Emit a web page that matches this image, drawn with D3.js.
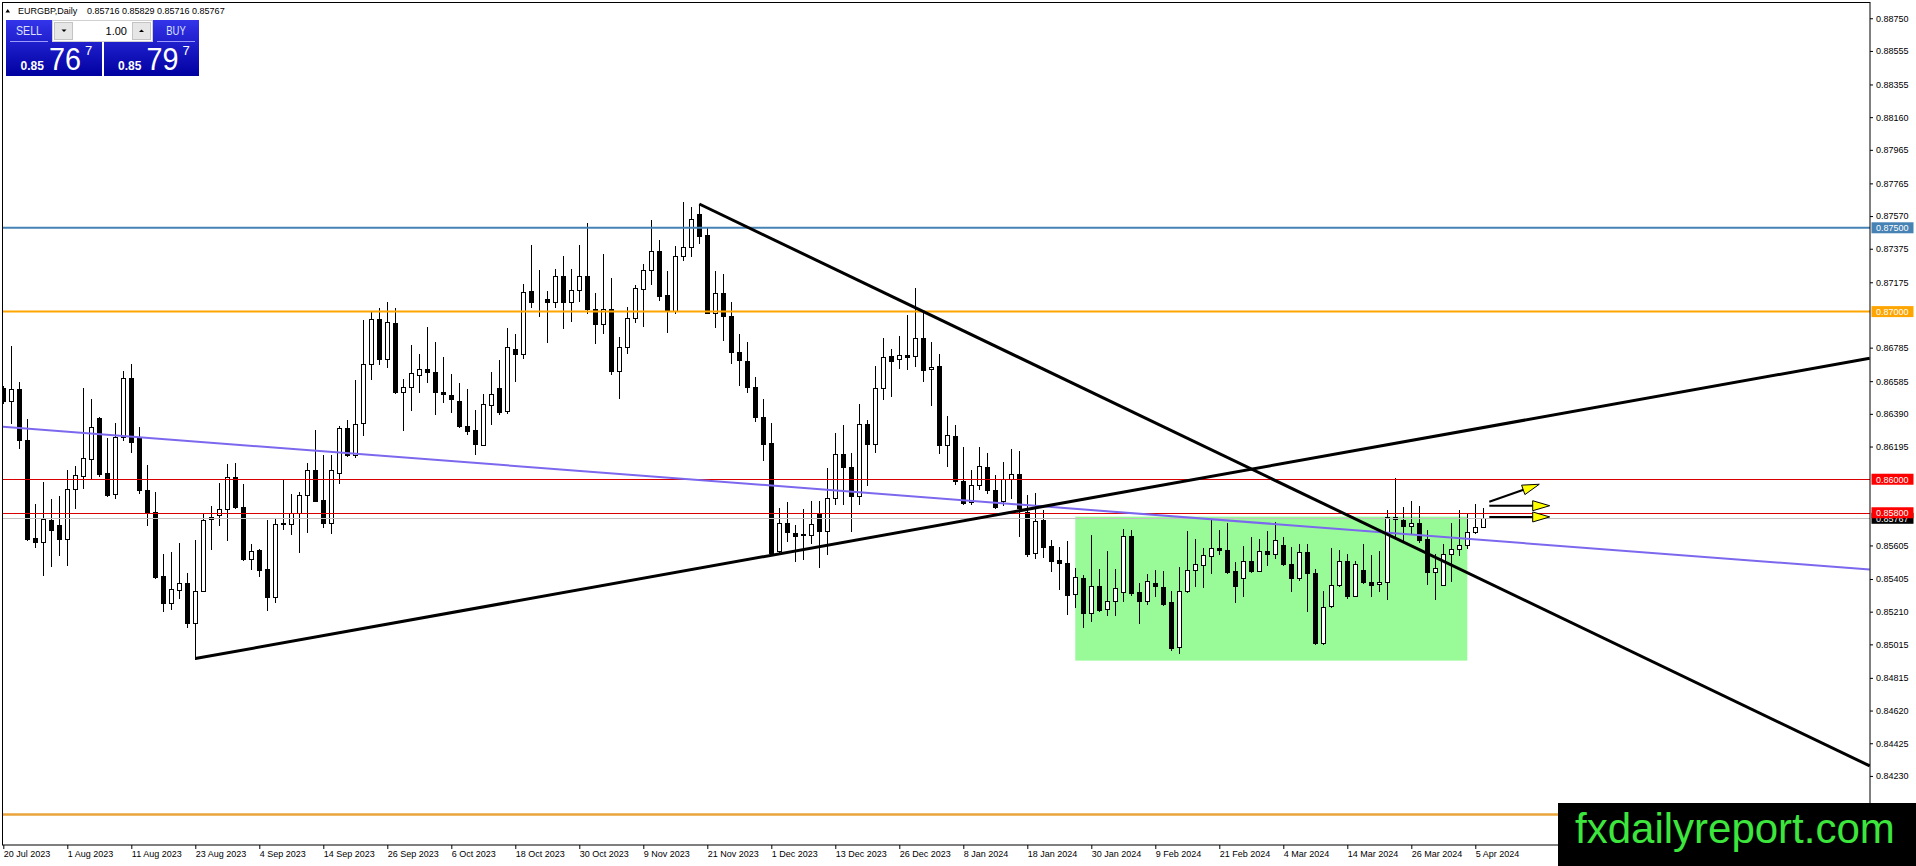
<!DOCTYPE html>
<html>
<head>
<meta charset="utf-8">
<script src="https://cdn.jsdelivr.net/npm/d3@7"></script>
<style>
html, body { margin: 0; padding: 0; background: #fff; overflow: hidden; }
svg { display: block; font-family: "Liberation Sans", Arial, sans-serif; }
</style>
</head>
<body>
<div id="chart"></div>
<script>
// EURGBP daily candles, 20 Jul 2023 .. 8 Apr 2024 (one value per bar)
const opens = [
  0.86546,0.86466,0.86540,0.86236,0.85652,0.85626,0.85754,0.85726,0.85642,0.85940,
  0.86020,0.86120,0.86366,0.86036,0.85910,0.86252,0.86606,0.86252,0.85936,0.85802,
  0.85420,0.85262,0.85340,0.85382,0.85140,0.85336,0.85760,0.85784,0.85820,0.86012,
  0.85832,0.85526,0.85580,0.85462,0.85296,0.85736,0.85732,0.85796,0.85906,0.86056,
  0.85876,0.85736,0.86036,0.86306,0.86146,0.86336,0.86686,0.86956,0.86720,0.86932,
  0.86522,0.86552,0.86620,0.86660,0.86642,0.86522,0.86504,0.86466,0.86320,0.86296,
  0.86206,0.86442,0.86542,0.86406,0.86776,0.86746,0.87120,0.87078,0.87076,0.87056,
  0.87212,0.87056,0.87126,0.87212,0.87016,0.86926,0.87016,0.86646,0.86790,0.86962,
  0.87136,0.87246,0.87362,0.87100,0.87006,0.87330,0.87386,0.87582,0.87456,0.86992,
  0.87112,0.86976,0.86762,0.86706,0.86552,0.86372,0.86216,0.85574,0.85740,0.85680,
  0.85672,0.85670,0.85800,0.85694,0.85886,0.86150,0.86074,0.85900,0.86330,0.86210,
  0.86546,0.86736,0.86720,0.86744,0.86736,0.86840,0.86660,0.86674,0.86204,0.86260,
  0.85990,0.85866,0.85964,0.86074,0.85934,0.85870,0.86000,0.86030,0.85806,0.85562,
  0.85756,0.85600,0.85516,0.85502,0.85316,0.85410,0.85200,0.85366,0.85226,0.85272,
  0.85326,0.85662,0.85330,0.85272,0.85382,0.85360,0.85270,0.85002,0.85332,0.85460,
  0.85486,0.85542,0.85592,0.85580,0.85450,0.85412,0.85510,0.85452,0.85570,0.85552,
  0.85606,0.85496,0.85412,0.85566,0.85442,0.85022,0.85242,0.85370,0.85512,0.85306,
  0.85460,0.85386,0.85376,0.85386,0.85776,0.85756,0.85722,0.85736,0.85642,0.85446,
  0.85370,0.85556,0.85586,0.85610,0.85686,0.85716
];
const highs = [
  0.86556,0.86796,0.86582,0.86362,0.85852,0.85986,0.85882,0.85900,0.86056,0.86076,
  0.86546,0.86476,0.86372,0.86246,0.86336,0.86646,0.86686,0.86312,0.86086,0.85922,
  0.85556,0.85566,0.85620,0.85442,0.85640,0.85800,0.85842,0.85976,0.86090,0.86096,
  0.85972,0.85616,0.85586,0.85756,0.85766,0.85996,0.85912,0.85922,0.86096,0.86296,
  0.86146,0.86146,0.86316,0.86356,0.86590,0.86950,0.86996,0.87022,0.87060,0.87022,
  0.86600,0.86800,0.86746,0.86910,0.86816,0.86732,0.86626,0.86572,0.86536,0.86416,
  0.86506,0.86642,0.86710,0.86902,0.86866,0.87162,0.87396,0.87246,0.87120,0.87252,
  0.87330,0.87256,0.87396,0.87526,0.87112,0.87346,0.87202,0.86846,0.87026,0.87156,
  0.87286,0.87546,0.87426,0.87242,0.87390,0.87652,0.87622,0.87642,0.87496,0.87242,
  0.87226,0.87056,0.86866,0.86820,0.86610,0.86476,0.86336,0.85830,0.85864,0.85724,
  0.85820,0.85870,0.85870,0.86066,0.86276,0.86324,0.86154,0.86450,0.86354,0.86674,
  0.86840,0.86774,0.86854,0.86980,0.87140,0.86994,0.86816,0.86750,0.86380,0.86324,
  0.86194,0.86054,0.86194,0.86156,0.86024,0.86104,0.86180,0.86170,0.85906,0.85920,
  0.85816,0.85636,0.85596,0.85630,0.85470,0.85426,0.85666,0.85462,0.85570,0.85466,
  0.85706,0.85696,0.85382,0.85432,0.85456,0.85450,0.85336,0.85476,0.85692,0.85642,
  0.85590,0.85766,0.85700,0.85736,0.85506,0.85600,0.85656,0.85642,0.85692,0.85746,
  0.85656,0.85596,0.85612,0.85616,0.85466,0.85336,0.85590,0.85580,0.85556,0.85512,
  0.85612,0.85546,0.85570,0.85816,0.86006,0.85836,0.85870,0.85840,0.85696,0.85552,
  0.85616,0.85740,0.85816,0.85792,0.85852,0.85829
];
const lows = [
  0.86456,0.86336,0.86186,0.85636,0.85596,0.85426,0.85480,0.85546,0.85486,0.85830,
  0.85950,0.86006,0.86020,0.85900,0.85886,0.86236,0.86160,0.85920,0.85726,0.85412,
  0.85212,0.85224,0.85292,0.85120,0.84926,0.85332,0.85582,0.85726,0.85636,0.85830,
  0.85520,0.85466,0.85420,0.85220,0.85266,0.85706,0.85676,0.85566,0.85686,0.85870,
  0.85716,0.85680,0.85976,0.86140,0.86132,0.86262,0.86596,0.86686,0.86670,0.86512,
  0.86292,0.86412,0.86520,0.86580,0.86390,0.86460,0.86402,0.86310,0.86270,0.86150,
  0.86202,0.86330,0.86390,0.86396,0.86586,0.86722,0.87030,0.86972,0.86816,0.87026,
  0.86902,0.86942,0.87062,0.86990,0.86810,0.86870,0.86626,0.86482,0.86756,0.86936,
  0.86912,0.87162,0.87070,0.86876,0.86990,0.87306,0.87332,0.87410,0.86990,0.86906,
  0.86830,0.86696,0.86562,0.86522,0.86350,0.86116,0.85546,0.85566,0.85630,0.85514,
  0.85526,0.85620,0.85474,0.85554,0.85850,0.85854,0.85694,0.85854,0.85964,0.86160,
  0.86480,0.86494,0.86664,0.86656,0.86676,0.86586,0.86440,0.86154,0.86080,0.85970,
  0.85854,0.85850,0.85940,0.85916,0.85830,0.85846,0.85890,0.85660,0.85540,0.85532,
  0.85536,0.85452,0.85346,0.85196,0.85236,0.85116,0.85152,0.85212,0.85190,0.85190,
  0.85272,0.85312,0.85140,0.85256,0.85302,0.85252,0.84980,0.84966,0.85330,0.85366,
  0.85356,0.85440,0.85552,0.85440,0.85266,0.85302,0.85446,0.85450,0.85486,0.85532,
  0.85490,0.85336,0.85400,0.85216,0.85016,0.85016,0.85236,0.85366,0.85290,0.85302,
  0.85380,0.85306,0.85336,0.85286,0.85656,0.85636,0.85680,0.85626,0.85376,0.85286,
  0.85370,0.85390,0.85550,0.85592,0.85680,0.85716
];
const closes = [
  0.86466,0.86536,0.86232,0.85646,0.85626,0.85760,0.85696,0.85642,0.85940,0.86024,
  0.86126,0.86312,0.86032,0.85906,0.86252,0.86606,0.86220,0.85936,0.85802,0.85416,
  0.85260,0.85346,0.85382,0.85140,0.85336,0.85754,0.85776,0.85820,0.86012,0.85832,
  0.85524,0.85572,0.85460,0.85296,0.85732,0.85732,0.85800,0.85906,0.86056,0.85872,
  0.85736,0.86056,0.86306,0.86146,0.86332,0.86686,0.86956,0.86720,0.86936,0.86520,
  0.86550,0.86632,0.86660,0.86642,0.86520,0.86510,0.86476,0.86316,0.86286,0.86210,
  0.86450,0.86510,0.86402,0.86786,0.86746,0.87116,0.87056,0.87074,0.87056,0.87212,
  0.87056,0.87126,0.87212,0.87016,0.86926,0.87016,0.86646,0.86786,0.86962,0.87142,
  0.87246,0.87362,0.87092,0.87006,0.87332,0.87386,0.87550,0.87452,0.86992,0.87112,
  0.86972,0.86762,0.86710,0.86552,0.86372,0.86212,0.85560,0.85740,0.85686,0.85664,
  0.85668,0.85730,0.85694,0.85886,0.86150,0.86070,0.85900,0.86330,0.86210,0.86546,
  0.86730,0.86706,0.86744,0.86730,0.86840,0.86654,0.86670,0.86204,0.86264,0.85990,
  0.85860,0.85964,0.86080,0.85934,0.85836,0.86000,0.86030,0.85830,0.85556,0.85750,
  0.85596,0.85512,0.85502,0.85312,0.85416,0.85200,0.85366,0.85222,0.85272,0.85352,
  0.85662,0.85322,0.85272,0.85390,0.85362,0.85256,0.84996,0.85332,0.85456,0.85496,
  0.85546,0.85592,0.85580,0.85446,0.85362,0.85510,0.85452,0.85570,0.85556,0.85636,
  0.85496,0.85412,0.85566,0.85442,0.85022,0.85240,0.85370,0.85512,0.85306,0.85496,
  0.85386,0.85370,0.85386,0.85776,0.85760,0.85722,0.85736,0.85640,0.85446,0.85472,
  0.85556,0.85586,0.85610,0.85686,0.85716,0.85767
];

// time axis labels, one every 8 bars
const dateTicks = ["20 Jul 2023","1 Aug 2023","11 Aug 2023","23 Aug 2023","4 Sep 2023","14 Sep 2023",
  "26 Sep 2023","6 Oct 2023","18 Oct 2023","30 Oct 2023","9 Nov 2023","21 Nov 2023","1 Dec 2023",
  "13 Dec 2023","26 Dec 2023","8 Jan 2024","18 Jan 2024","30 Jan 2024","9 Feb 2024","21 Feb 2024",
  "4 Mar 2024","14 Mar 2024","26 Mar 2024","5 Apr 2024"];
// grid prices whose labels are not hidden by the level tags
const priceTicks = [0.88750,0.88555,0.88355,0.88160,0.87965,0.87765,0.87570,0.87375,0.87175,
  0.86785,0.86585,0.86390,0.86195,0.85605,0.85405,0.85210,0.85015,0.84815,0.84620,
  0.84425,0.84230];

// chart objects
const levelPrices = [0.87500, 0.87000, 0.86000, 0.85800, 0.84000];
const bidPrice = 0.85767;
const trendUp = [[24, 0.84930], [233.3, 0.86722]];
const trendDown = [[87, 0.87642], [233.3, 0.84290]];
const blueLine = [[-0.4, 0.86314], [233.3, 0.85461]];
const rangeBox = { from: 134, to: 183, high: 0.85777, low: 0.84918 };
const arrows = [
  [[185.75, 0.85866], [192.0, 0.85970]],
  [[185.75, 0.85842], [193.3, 0.85842]],
  [[185.75, 0.85775], [193.3, 0.85775]]
];

const W = 1916, H = 866;
const axisX = 1870, axisY = 845;

const x = d3.scaleLinear().domain([0, 1]).range([3.3, 11.3]);
const y = d3.scaleLinear().domain([0.83818, 0.88841]).range([axisY, 3]);
const fmt = d3.format(".5f");

const svg = d3.select("#chart").append("svg")
    .attr("width", W)
    .attr("height", H);
const defs = svg.append("defs");
defs.append("clipPath").attr("id", "plotClip")
  .append("rect").attr("x", 3).attr("y", 3).attr("width", axisX - 3).attr("height", axisY - 3);

const chart = svg.append("g").attr("clip-path", "url(#plotClip)");

// green range rectangle sits behind the candles
chart.append("rect")
    .attr("x", x(rangeBox.from))
    .attr("width", x(rangeBox.to) - x(rangeBox.from))
    .attr("y", y(rangeBox.high))
    .attr("height", y(rangeBox.low) - y(rangeBox.high))
    .attr("fill", "#98FB98");

// candles
const bars = opens.map((o, i) => ({ i, o, h: highs[i], l: lows[i], c: closes[i] }));
const cx = d => Math.round(x(d.i)) + 0.5;
const candleG = chart.append("g").attr("shape-rendering", "crispEdges");

candleG.selectAll("line")
  .data(bars)
  .join("line")
    .attr("x1", cx).attr("x2", cx)
    .attr("y1", d => Math.round(y(d.h)))
    .attr("y2", d => Math.round(y(d.l)) + 1)
    .attr("stroke", "#000");

candleG.selectAll("rect")
  .data(bars)
  .join("rect")
    .attr("x", d => cx(d) - 2)
    .attr("width", 4)
    .attr("y", d => Math.round(y(Math.max(d.o, d.c))) + 0.5)
    .attr("height", d => Math.max(0, Math.round(y(Math.min(d.o, d.c))) - Math.round(y(Math.max(d.o, d.c)))))
    .attr("fill", d => d.c >= d.o ? "#fff" : "#000")
    .attr("stroke", "#000");

// horizontal levels
const levelColors = ["#4682B4", "#FFA500", "#D80000", "#D80000", "#E9A43C"];
const levelWidths = [2, 2, 1, 1, 2.5];
chart.append("line")
    .attr("x1", 3).attr("x2", axisX)
    .attr("y1", Math.round(y(bidPrice)) + 0.5).attr("y2", Math.round(y(bidPrice)) + 0.5)
    .attr("stroke", "#C0C0C0");
levelPrices.forEach((p, k) => {
  const yy = levelWidths[k] === 1 ? Math.round(y(p)) + 0.5 : y(p);
  chart.append("line")
      .attr("x1", 3).attr("x2", axisX)
      .attr("y1", yy).attr("y2", yy)
      .attr("stroke", levelColors[k])
      .attr("stroke-width", levelWidths[k]);
});

// trend lines
const seg = pts => d3.line().x(d => x(d[0])).y(d => y(d[1]))(pts);
chart.append("path").attr("d", seg(blueLine))
    .attr("stroke", "#7B68EE").attr("stroke-width", 2).attr("fill", "none");
[trendUp, trendDown].forEach(t => {
  chart.append("path").attr("d", seg(t))
      .attr("stroke", "#000").attr("stroke-width", 3).attr("fill", "none");
});

// yellow arrows
arrows.forEach(([a, b]) => {
  const x1 = x(a[0]), y1 = y(a[1]), x2 = x(b[0]), y2 = y(b[1]);
  const len = Math.hypot(x2 - x1, y2 - y1), ux = (x2 - x1) / len, uy = (y2 - y1) / len;
  const bx = x2 - ux * 17, by = y2 - uy * 17;
  chart.append("line")
      .attr("x1", x1).attr("y1", y1).attr("x2", bx + ux * 6).attr("y2", by + uy * 6)
      .attr("stroke", "#000").attr("stroke-width", 2);
  chart.append("path")
      .attr("d", `M${x2},${y2}L${bx - uy * 5},${by + ux * 5}L${bx + uy * 5},${by - ux * 5}Z`)
      .attr("fill", "#FFFF00").attr("stroke", "#000").attr("stroke-width", 1);
});

// frame
svg.append("rect")
    .attr("x", 2.5).attr("y", 2.5)
    .attr("width", axisX - 2.5).attr("height", axisY - 2.5)
    .attr("fill", "none").attr("stroke", "#000");

// time axis
const tickIdx = dateTicks.map((_, k) => k * 8);
svg.append("g")
    .attr("transform", `translate(0,${axisY})`)
    .call(d3.axisBottom(x).tickValues(tickIdx).tickFormat((d, k) => dateTicks[k]).tickSize(4).tickPadding(2))
    .call(g => g.select(".domain").remove())
    .call(g => g.selectAll("text")
        .attr("text-anchor", "start")
        .attr("font-family", "'Liberation Sans', Arial, sans-serif")
        .attr("font-size", 9)
        .attr("fill", "#000"));

// price axis
svg.append("g")
    .attr("transform", `translate(${axisX},0)`)
    .call(d3.axisRight(y).tickValues(priceTicks).tickFormat(fmt).tickSize(3).tickPadding(3))
    .call(g => g.select(".domain").remove())
    .call(g => g.selectAll("text")
        .attr("font-family", "'Liberation Sans', Arial, sans-serif")
        .attr("font-size", 9)
        .attr("fill", "#000"));

// price tags for the bid and the levels (the 0.84 tag lies under the watermark)
const tag = (p, bg) => {
  const g = svg.append("g").attr("transform", `translate(${axisX + 1.5},${y(p)})`);
  g.append("rect").attr("x", 0).attr("y", -5.5).attr("width", 42).attr("height", 11).attr("fill", bg);
  g.append("text").attr("x", 4.5).attr("y", 3.3)
      .attr("font-size", 9).attr("fill", "#fff").text(fmt(p));
};
tag(bidPrice, "#000");
const tagColors = ["#4682B4", "#FFA500", "#FF0000", "#FF0000"];
levelPrices.slice(0, 4).forEach((p, k) => tag(p, tagColors[k]));

// header
svg.append("path").attr("d", "M5.5,12.5L7.75,9L10,12.5Z").attr("fill", "#000");
svg.append("text").attr("x", 18).attr("y", 14).attr("font-size", 9).text("EURGBP,Daily");
svg.append("text").attr("x", 87).attr("y", 14).attr("font-size", 9)
    .text([opens[185], highs[185], lows[185], closes[185]].map(fmt).join(" "));

// one-click trading panel
const grad = defs.append("linearGradient").attr("id", "btnGrad")
    .attr("x1", 0).attr("y1", 0).attr("x2", 0).attr("y2", 1);
grad.append("stop").attr("offset", 0).attr("stop-color", "#3434ea");
grad.append("stop").attr("offset", 1).attr("stop-color", "#0000a0");

const panel = svg.append("g");
panel.append("path").attr("d", "M6,20H52V42H102V76H6Z").attr("fill", "url(#btnGrad)");
panel.append("path").attr("d", "M153,20H199V76H104V42H153Z").attr("fill", "url(#btnGrad)");
panel.append("line").attr("x1", 10).attr("x2", 48).attr("y1", 41.5).attr("y2", 41.5).attr("stroke", "#9a9aff");
panel.append("line").attr("x1", 157).attr("x2", 195).attr("y1", 41.5).attr("y2", 41.5).attr("stroke", "#9a9aff");
panel.append("rect").attr("x", 52.5).attr("y", 20.5).attr("width", 100).attr("height", 21)
    .attr("fill", "#fff").attr("stroke", "#d0d0d0");
panel.append("rect").attr("x", 54.5).attr("y", 22.5).attr("width", 18).attr("height", 17)
    .attr("fill", "#e6e6e6").attr("stroke", "#c4c4c4");
panel.append("rect").attr("x", 132.5).attr("y", 22.5).attr("width", 18).attr("height", 17)
    .attr("fill", "#e6e6e6").attr("stroke", "#c4c4c4");
panel.append("path").attr("d", "M61.5,29.5H66.5L64,32Z").attr("fill", "#000");
panel.append("path").attr("d", "M139,32H144L141.5,29.5Z").attr("fill", "#000");
panel.append("text").attr("x", 127).attr("y", 35).attr("text-anchor", "end")
    .attr("font-size", 11).text("1.00");

const quote = (x0, label) => {
  panel.append("text").attr("x", x0 + 23).attr("y", 35).attr("text-anchor", "middle")
      .attr("font-size", 12).attr("fill", "#dde2ff")
      .attr("textLength", label.length * 6.5).attr("lengthAdjust", "spacingAndGlyphs").text(label);
};
quote(6, "SELL");
quote(153, "BUY");
const price = (x0, big) => {
  panel.append("text").attr("x", x0).attr("y", 70).attr("font-size", 12).attr("font-weight", "bold")
      .attr("fill", "#fff").text("0.85");
  panel.append("text").attr("x", x0 + 28.5).attr("y", 70).attr("font-size", 32).attr("fill", "#fff")
      .attr("textLength", 32).attr("lengthAdjust", "spacingAndGlyphs").text(big);
  panel.append("text").attr("x", x0 + 64.5).attr("y", 55).attr("font-size", 13).attr("fill", "#fff").text("7");
};
price(20.5, "76");
price(118, "79");

// watermark
svg.append("rect").attr("x", 1558).attr("y", 803).attr("width", W - 1558).attr("height", H - 803).attr("fill", "#000");
svg.append("text").attr("x", 1575).attr("y", 843).attr("font-size", 42).attr("fill", "#3de63d")
    .text("fxdailyreport.com");
</script>
</body>
</html>
